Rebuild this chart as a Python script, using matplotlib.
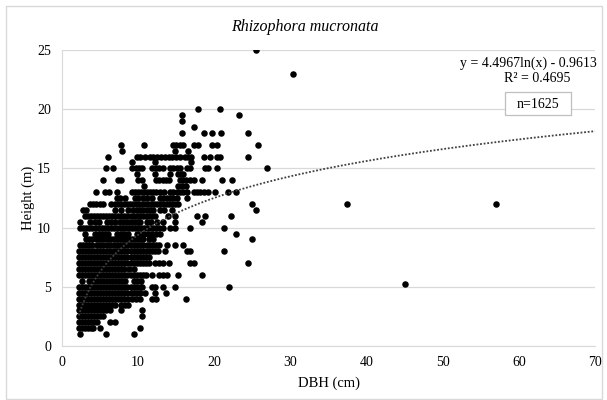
import numpy as np
import matplotlib
matplotlib.use("Agg")
import matplotlib.pyplot as plt
from matplotlib.patches import Rectangle

# ---------------- text / axes values ----------------
title = "Rhizophora mucronata"
x_label = "DBH (cm)"
y_label = "Height (m)"
x_ticks = [0, 10, 20, 30, 40, 50, 60, 70]
y_ticks = [0, 5, 10, 15, 20, 25]
trend_a = 4.4967
trend_b = -0.9613
r_squared = 0.4695
n_trees = 1625

# ---------------- scatter data: DBH values per height row ----------------
h25_0 = [25.5]
h23_0 = [30.3]
h20_0 = [17.8, 20.8]
h19_5 = [15.8, 23.3]
h19_0 = [15.8]
h18_5 = [17.3]
h18_0 = [15.8, 18.6, 19.7, 20.9, 24.4]
h17_0 = [7.7, 10.8, 14.6, 15.0, 15.5, 15.9, 17.3, 17.9, 19.7, 20.3, 25.8]
h16_5 = [7.9, 14.8, 16.6]
h16_0 = [6.1, 9.8, 10.3, 10.9, 11.6, 12.0, 12.5, 13.0, 13.5, 14.0, 14.5, 15.0, 15.5,
         16.2, 16.6, 17.0, 18.6, 19.4, 20.3, 20.8, 24.4]
h15_5 = [9.2, 12.2, 17.0]
h15_0 = [5.8, 6.7, 9.2, 9.7, 10.1, 10.5, 11.8, 12.3, 12.8, 13.3, 14.2, 14.6, 15.1, 15.5,
         16.4, 16.8, 18.8, 19.2, 20.3, 26.9]
h14_5 = [9.8, 12.2, 14.2, 15.3, 15.6, 15.9]
h14_0 = [5.4, 7.4, 7.7, 10.0, 10.5, 12.4, 12.8, 13.2, 13.6, 14.0, 15.5, 15.9, 16.3,
         16.8, 17.3, 18.4, 21.0, 22.3]
h13_5 = [10.8, 15.3, 15.8, 16.3]
h13_0 = [4.4, 5.7, 6.2, 7.2, 9.2, 9.6, 10.0, 10.4, 10.8, 11.2, 11.6, 12.0, 12.4, 12.9,
         13.4, 14.2, 14.6, 15.1, 15.5, 15.9, 16.4, 17.3, 17.7, 18.1, 18.6, 19.2, 20.1,
         21.8, 22.9]
h12_5 = [7.2, 7.6, 8.3, 9.6, 10.0, 10.7, 11.2, 11.8, 12.9, 13.3, 13.8, 14.2, 14.6, 15.1, 16.4]
h12_0 = [3.7, 4.1, 4.5, 5.0, 5.4, 6.5, 6.9, 7.3, 7.7, 8.1, 8.5, 8.9, 9.3, 9.7, 10.1,
         10.5, 10.9, 11.3, 11.7, 12.1, 12.5, 12.9, 13.3, 13.7, 14.1, 14.5, 14.9, 15.3,
         25.0, 37.4, 57.0]
h11_5 = [2.7, 3.2, 6.9, 7.8, 8.7, 9.3, 9.8, 10.2, 10.7, 11.1, 11.6, 12.0, 12.9, 13.4,
         14.4, 25.5]
h11_0 = [3.0, 3.4, 3.8, 4.2, 4.6, 5.0, 5.4, 5.8, 6.2, 6.6, 7.0, 7.4, 7.8, 8.2, 8.6,
         9.0, 9.4, 9.8, 10.2, 10.6, 11.0, 11.4, 11.8, 12.2, 13.9, 14.8, 17.7, 18.8, 22.2]
h10_5 = [2.4, 3.7, 4.3, 4.8, 5.9, 6.5, 7.0, 7.6, 8.0, 8.4, 8.8, 9.2, 9.6, 10.0, 10.3,
         11.1, 11.7, 12.5, 13.3, 14.8, 18.4]
h10_0 = [2.4, 2.8, 3.2, 3.6, 4.0, 4.4, 4.8, 5.2, 5.6, 6.0, 6.4, 6.8, 7.2, 7.6, 8.0,
         8.4, 8.8, 9.2, 9.6, 10.0, 10.4, 10.8, 11.2, 11.6, 12.0, 12.4, 12.8, 13.2,
         14.2, 14.8, 16.8, 21.3]
h9_5 = [3.0, 4.3, 4.8, 5.2, 5.7, 6.1, 7.2, 7.7, 8.2, 8.7, 9.8, 10.3, 10.8, 11.3, 11.8,
        12.3, 12.9, 22.9]
h9_0 = [3.2, 3.6, 4.0, 4.4, 4.8, 5.2, 5.6, 6.0, 6.4, 6.8, 7.2, 7.6, 8.0, 8.4, 8.8,
        9.2, 9.6, 10.0, 10.4, 10.7, 11.4, 12.0, 24.9]
h8_5 = [2.4, 2.8, 3.2, 3.5, 3.9, 4.6, 5.0, 5.4, 5.9, 6.3, 6.8, 7.2, 7.6, 8.0, 8.3, 8.7,
        9.1, 9.5, 9.9, 10.3, 10.7, 11.1, 11.5, 11.9, 12.3, 12.7, 13.8, 14.8, 15.9]
h8_0 = [2.2, 2.6, 3.0, 3.4, 3.8, 4.2, 4.6, 5.0, 5.4, 5.8, 6.2, 6.6, 7.0, 7.4, 7.8,
        8.2, 8.6, 9.0, 9.4, 9.8, 10.2, 10.6, 11.0, 11.4, 11.8, 12.2, 12.6, 13.5,
        16.4, 16.8, 21.3]
h7_5 = [2.2, 2.6, 3.0, 3.4, 3.8, 4.2, 4.6, 5.0, 5.4, 5.8, 6.2, 6.6, 7.0, 7.4, 7.8,
        8.2, 8.6, 9.0, 9.4, 9.8, 10.2, 10.6, 11.0, 11.4]
h7_0 = [2.2, 2.6, 3.0, 3.4, 3.8, 4.2, 4.6, 5.0, 5.4, 5.8, 6.2, 6.6, 7.0, 7.4, 7.8,
        8.2, 8.6, 9.0, 9.4, 9.8, 10.2, 10.6, 11.0, 11.4, 12.2, 12.7, 13.2, 14.0,
        16.8, 17.3, 24.4]
h6_5 = [2.2, 2.6, 3.0, 3.4, 3.8, 4.2, 4.6, 5.0, 5.4, 5.8, 6.2, 6.6, 7.0, 7.4, 7.8,
        8.2, 8.8, 9.4]
h6_0 = [2.2, 2.6, 3.0, 3.4, 3.8, 4.2, 4.6, 5.0, 5.4, 5.8, 6.2, 6.6, 7.0, 7.4, 7.8,
        8.2, 8.6, 9.0, 9.4, 9.8, 10.2, 10.6, 11.0, 11.8, 12.7, 13.2, 13.8, 15.3, 18.4]
h5_5 = [2.6, 3.5, 3.9, 4.3, 4.7, 5.1, 5.5, 5.9, 6.3, 6.7, 7.1, 7.5, 7.9, 8.3, 9.4,
        9.9, 10.4]
h5_2 = [45.0]
h5_0 = [2.2, 2.6, 3.0, 3.4, 3.8, 4.2, 4.6, 5.0, 5.4, 5.8, 6.2, 6.6, 7.0, 7.4, 7.8,
        8.2, 8.6, 9.0, 9.4, 9.8, 10.2, 10.5, 11.8, 12.2, 13.3, 14.8, 21.9]
h4_5 = [2.2, 2.6, 3.0, 3.4, 3.8, 4.2, 4.6, 5.0, 5.4, 5.8, 6.2, 6.6, 7.0, 7.4, 7.8,
        8.2, 8.6, 9.0, 9.4, 9.8, 10.3, 10.9, 12.2, 13.6]
h4_0 = [2.2, 2.6, 3.0, 3.4, 3.8, 4.2, 4.6, 5.0, 5.4, 5.8, 6.2, 6.6, 7.0, 7.4, 7.8,
        8.2, 8.7, 9.2, 9.7, 10.3, 11.8, 12.4, 16.3]
h3_5 = [2.2, 2.6, 3.0, 3.4, 3.8, 4.2, 4.6, 5.0, 5.4, 5.8, 6.2, 6.6, 7.0, 7.8, 8.3, 8.7]
h3_0 = [2.2, 2.6, 3.0, 3.4, 3.8, 4.2, 4.6, 5.0, 5.4, 5.8, 6.3, 7.8, 10.5]
h2_5 = [2.2, 2.6, 3.0, 3.4, 3.8, 4.2, 4.6, 5.0, 5.4, 10.5]
h2_0 = [2.2, 2.6, 3.0, 3.4, 3.8, 4.2, 4.6, 6.3, 6.9]
h1_5 = [2.2, 2.6, 3.0, 3.4, 3.8, 4.1, 5.0, 10.2]
h1_0 = [2.3, 5.8, 9.5]

row_heights = [25.0, 23.0, 20.0, 19.5, 19.0, 18.5, 18.0, 17.0, 16.5, 16.0, 15.5, 15.0,
               14.5, 14.0, 13.5, 13.0, 12.5, 12.0, 11.5, 11.0, 10.5, 10.0, 9.5, 9.0,
               8.5, 8.0, 7.5, 7.0, 6.5, 6.0, 5.5, 5.2, 5.0, 4.5, 4.0, 3.5, 3.0, 2.5,
               2.0, 1.5, 1.0]
row_dbh = [h25_0, h23_0, h20_0, h19_5, h19_0, h18_5, h18_0, h17_0, h16_5, h16_0, h15_5,
           h15_0, h14_5, h14_0, h13_5, h13_0, h12_5, h12_0, h11_5, h11_0, h10_5, h10_0,
           h9_5, h9_0, h8_5, h8_0, h7_5, h7_0, h6_5, h6_0, h5_5, h5_2, h5_0, h4_5, h4_0,
           h3_5, h3_0, h2_5, h2_0, h1_5, h1_0]

dbh = []
height = []
for hv, row in zip(row_heights, row_dbh):
    dbh.extend(row)
    height.extend([hv] * len(row))

# ---------------- figure ----------------
W, H = 607, 400
fig = plt.figure(figsize=(W / 100, H / 100), dpi=100)
serif = ["Liberation Serif", "DejaVu Serif"]
plt.rcParams["font.family"] = serif

# chart-area border
fig.patches.append(Rectangle((6 / W, 1 / H), (602 - 6) / W, (394 - 1) / H,
                             transform=fig.transFigure, fill=False,
                             edgecolor="#d9d9d9", linewidth=1.0))

L, R, T, B = 62, 595, 50, 346
ax = fig.add_axes([L / W, 1 - B / H, (R - L) / W, (B - T) / H])

ax.scatter(dbh, height, s=22, color="black", linewidths=0, zorder=3)

xt = np.linspace(2.2, 70, 400)
ax.plot(xt, trend_a * np.log(xt) + trend_b, color="#404040",
        linestyle=(0, (1, 1)), linewidth=1.3, zorder=4)

ax.set_xlim(0, 70)
ax.set_ylim(0, 25)
ax.set_xticks(x_ticks)
ax.set_yticks(y_ticks)
ax.set_xticklabels([str(v) for v in x_ticks], fontsize=10)
ax.set_yticklabels([str(v) for v in y_ticks], fontsize=10)
ax.tick_params(axis="both", length=0)
ax.tick_params(axis="x", pad=7)
ax.tick_params(axis="y", pad=8)
ax.grid(axis="y", color="#d9d9d9", linewidth=0.9, zorder=0)
ax.set_axisbelow(True)
for s in ["top", "right"]:
    ax.spines[s].set_visible(False)
ax.spines["left"].set_color("#d9d9d9")
ax.spines["bottom"].set_color("#d9d9d9")

fig.text(305 / W, 1 - 27 / H, title, ha="center", va="center",
         fontsize=11.5, style="italic")
fig.text((L + R) / 2 / W, 1 - 383 / H, x_label, ha="center", va="center", fontsize=10.5)
fig.text(28 / W, 1 - 198 / H, y_label, ha="center", va="center", rotation=90,
         fontsize=10.5)

fig.text(597 / W, 1 - 63 / H, f"y = {trend_a}ln(x) - {abs(trend_b)}",
         ha="right", va="center", fontsize=10)
fig.text(537 / W, 1 - 78 / H, f"R² = {r_squared}", ha="center", va="center",
         fontsize=10)
# n box
fig.patches.append(Rectangle((505 / W, 1 - 115 / H), 66 / W, 23 / H,
                             transform=fig.transFigure, facecolor="white",
                             edgecolor="#bfbfbf", linewidth=0.9, zorder=5))
fig.text(538 / W, 1 - 104 / H, f"n={n_trees}", ha="center", va="center",
         fontsize=10, zorder=6)

fig.savefig("out.png", dpi=100)
